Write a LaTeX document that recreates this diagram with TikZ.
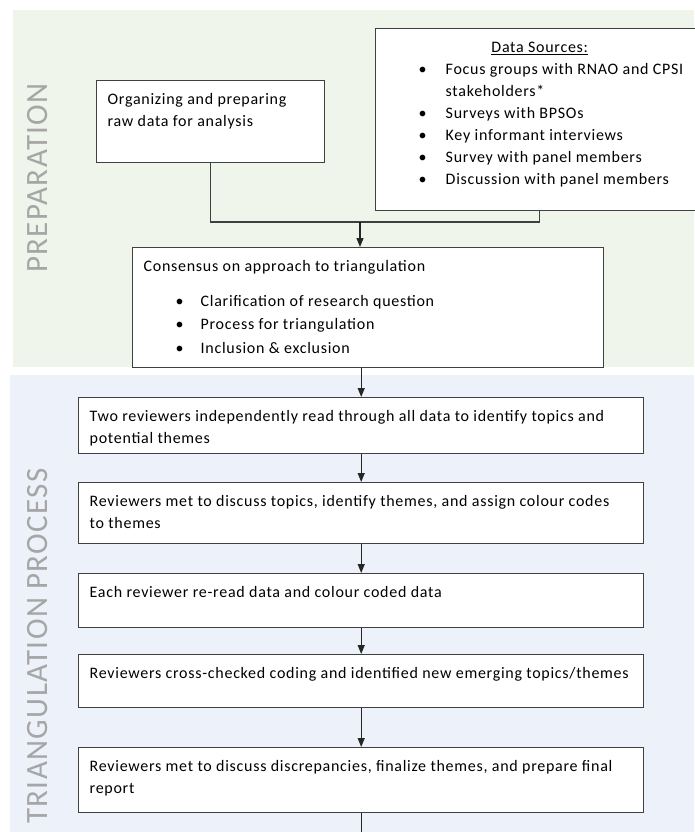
\documentclass[tikz,border=0pt]{standalone}
\usepackage{fontspec}
\setmainfont{Carlito}[LetterSpace=4.5]
\usetikzlibrary{arrows.meta,calc}

\definecolor{prepgreen}{HTML}{EFF5EA}
\definecolor{trianblue}{HTML}{EDF1F9}
\definecolor{labelgrey}{HTML}{A6A6A6}
\definecolor{boxline}{HTML}{404040}

% text of a box: width, height, lines (set from the top)
\newcommand{\boxtext}[3]{\parbox[c][#2][t]{#1}{\vspace{8pt}\rule{0pt}{15.5pt}#3}}
% bullet line: bullet offset, text offset, text
\newcommand{\bitem}[3]{\par\hangindent=#2\hangafter=1\hspace*{#1}\makebox[\dimexpr#2-#1\relax][l]{\textbullet}#3}

\tikzset{
  stagebox/.style={draw=boxline, line width=1.4pt, fill=white, anchor=north west,
    inner xsep=11pt, inner ysep=0pt, font=\fontsize{16}{22}\selectfont},
  flow/.style={draw=black!85, line width=1.2pt, -{Triangle[length=9pt,width=7pt]}},
  link/.style={draw=black!75, line width=1.2pt},
  phase/.style={rotate=90, text=labelgrey, font=\fontsize{31}{31}\selectfont}
}

\begin{document}
\begin{tikzpicture}[x=1pt,y=1pt]
\useasboundingbox (0,0) rectangle (694,-832);
% background bands
\fill[prepgreen] (13,-10) rectangle (694,-367);
\fill[trianblue] (10,-375) rectangle (694,-832);
\node[phase] (prep) at (38,-178) {PREPARATION};
\node[phase] (tri) at (38,-646) {TRIANGULATION PROCESS};

% preparation
\node[stagebox] (org) at (96,-80) {\boxtext{206pt}{82pt}{Organizing and preparing\\raw data for analysis}};
\node[stagebox] (src) at (375,-28) {\boxtext{306pt}{182pt}{%
  \makebox[\linewidth]{\underline{Data Sources:}}
  \bitem{32pt}{59pt}{Focus groups with RNAO and CPSI\\stakeholders*}
  \bitem{32pt}{59pt}{Surveys with BPSOs}
  \bitem{32pt}{59pt}{Key informant interviews}
  \bitem{32pt}{59pt}{Survey with panel members}
  \bitem{32pt}{59pt}{Discussion with panel members}}};
\node[stagebox, font=\fontsize{16}{23.5}\selectfont] (cons) at (132,-247) {\boxtext{449pt}{120pt}{%
  Consensus on approach to triangulation\par\vspace{11.5pt}
  \bitem{32pt}{57pt}{Clarification of research question}
  \bitem{32pt}{57pt}{Process for triangulation}
  \bitem{32pt}{57pt}{Inclusion \& exclusion}}};
\coordinate (join) at (360,-222);
\draw[link] (org.south) |- (join) -| (src.south);
\draw[flow] (join) -- (join |- cons.north);

% triangulation process
\node[stagebox] (s1) at (78,-397) {\boxtext{543pt}{56pt}{Two reviewers independently read through all data to identify topics and\\potential themes}};
\node[stagebox] (s2) at (78,-482) {\boxtext{543pt}{61pt}{Reviewers met to discuss topics, identify themes, and assign colour codes\\to themes}};
\node[stagebox] (s3) at (78,-573) {\boxtext{543pt}{54pt}{Each reviewer re-read data and colour coded data}};
\node[stagebox] (s4) at (78,-654) {\boxtext{543pt}{53pt}{Reviewers cross-checked coding and identified new emerging topics/themes}};
\node[stagebox] (s5) at (78,-747) {\boxtext{543pt}{65pt}{Reviewers met to discuss discrepancies, finalize themes, and prepare final\\report}};
\draw[flow] (cons.south -| s1.north) -- (s1.north);
\foreach \a/\b in {s1/s2,s2/s3,s3/s4,s4/s5}
  \draw[flow] (\a.south) -- (\b.north);
\coordinate (out) at ($(s5.south)+(0,-28)$);
\draw[flow] (s5.south) -- (out);
\end{tikzpicture}
\end{document}
